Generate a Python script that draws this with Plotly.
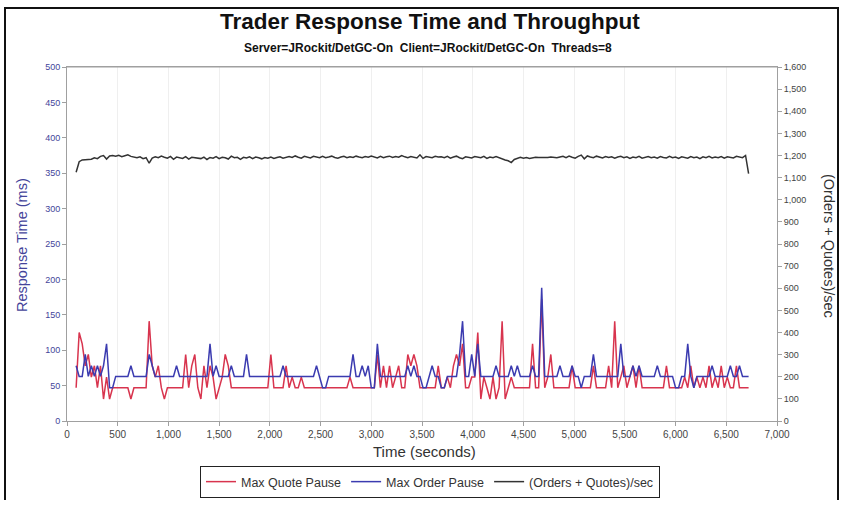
import plotly.graph_objects as go

# sample times (seconds) - one sample every 30 s
time_s = list(range(90, 6721, 30))

# Max Quote Pause (ms)
max_quote_pause = [
    47, 125, 109, 78, 94, 62, 78, 47, 78, 31,
    62, 31, 47, 47, 47, 47, 47, 47, 31, 47,
    47, 47, 47, 47, 141, 78, 62, 78, 47, 31,
    47, 47, 47, 47, 47, 47, 94, 47, 78, 94,
    47, 31, 78, 47, 78, 62, 31, 47, 62, 94,
    78, 47, 47, 47, 47, 47, 47, 47, 47, 47,
    47, 47, 47, 47, 94, 47, 47, 47, 47, 78,
    47, 62, 47, 47, 62, 47, 47, 47, 47, 47,
    47, 47, 47, 47, 47, 47, 47, 47, 47, 47,
    62, 47, 47, 47, 47, 47, 47, 47, 47, 94,
    47, 78, 47, 78, 47, 62, 78, 47, 47, 94,
    78, 94, 78, 47, 47, 47, 47, 47, 47, 78,
    47, 47, 62, 47, 78, 94, 78, 109, 47, 47,
    62, 62, 125, 31, 62, 47, 31, 62, 31, 47,
    141, 31, 47, 62, 47, 47, 47, 47, 47, 47,
    109, 47, 47, 172, 47, 62, 94, 47, 47, 47,
    47, 47, 47, 78, 47, 47, 47, 47, 47, 47,
    78, 47, 47, 47, 47, 78, 47, 141, 47, 62,
    78, 47, 62, 78, 47, 78, 47, 47, 47, 47,
    47, 47, 47, 47, 78, 47, 47, 47, 47, 47,
    62, 47, 78, 47, 62, 47, 62, 47, 78, 47,
    62, 47, 78, 47, 62, 47, 47, 78, 47, 47,
    47, 47,
]

# Max Order Pause (ms)
max_order_pause = [
    78, 63, 63, 94, 63, 78, 63, 78, 63, 78,
    109, 47, 47, 63, 63, 63, 63, 63, 78, 63,
    63, 63, 63, 63, 94, 78, 63, 63, 63, 63,
    63, 63, 63, 78, 63, 63, 63, 63, 63, 63,
    63, 63, 63, 63, 109, 63, 78, 63, 63, 63,
    63, 78, 63, 63, 63, 63, 94, 63, 63, 63,
    63, 63, 63, 63, 63, 63, 63, 63, 78, 63,
    63, 63, 63, 63, 63, 63, 63, 63, 63, 78,
    63, 47, 47, 63, 63, 63, 63, 63, 63, 63,
    63, 94, 63, 63, 78, 63, 78, 47, 47, 109,
    63, 63, 63, 63, 63, 63, 63, 63, 63, 78,
    63, 78, 63, 63, 47, 47, 63, 78, 63, 63,
    47, 47, 63, 63, 63, 63, 94, 141, 63, 63,
    94, 63, 109, 63, 63, 63, 63, 63, 78, 63,
    63, 63, 63, 78, 63, 78, 63, 63, 63, 63,
    78, 63, 63, 188, 63, 63, 63, 63, 63, 78,
    63, 63, 63, 78, 63, 63, 47, 63, 63, 63,
    94, 63, 63, 63, 63, 63, 63, 63, 63, 109,
    63, 63, 63, 78, 63, 78, 63, 63, 63, 63,
    63, 78, 63, 63, 63, 63, 63, 47, 47, 63,
    63, 109, 63, 47, 63, 63, 63, 63, 63, 78,
    63, 63, 63, 63, 63, 78, 63, 63, 78, 63,
    63, 63,
]

# (Orders + Quotes)/sec
throughput = [
    1124, 1172, 1180, 1181, 1182, 1183, 1190, 1186, 1196, 1200,
    1184, 1198, 1200, 1197, 1201, 1195, 1199, 1203, 1196, 1193,
    1190, 1194, 1186, 1190, 1165, 1188, 1194, 1190, 1197, 1192,
    1188, 1196, 1183, 1193, 1190, 1187, 1195, 1184, 1192, 1190,
    1188, 1186, 1193, 1182, 1191, 1188, 1195, 1186, 1192, 1190,
    1184, 1197, 1190, 1192, 1183, 1192, 1189, 1194, 1186, 1193,
    1190, 1185, 1191, 1188, 1193, 1187, 1191, 1194, 1188, 1190,
    1195, 1191, 1198, 1192, 1188, 1196, 1193, 1189, 1196, 1192,
    1190, 1196, 1190, 1193, 1197, 1191, 1188, 1193, 1196, 1190,
    1194, 1191, 1197, 1193, 1190, 1195, 1192, 1198, 1193, 1189,
    1196, 1190, 1194, 1197, 1191, 1195, 1192, 1200, 1194, 1190,
    1195, 1193, 1189, 1203, 1187, 1195, 1192, 1190, 1196, 1193,
    1194, 1190, 1196, 1188, 1193, 1197, 1190, 1186, 1194, 1191,
    1189, 1195, 1192, 1190, 1196, 1187, 1193, 1190, 1195, 1189,
    1185, 1180, 1176, 1168, 1182, 1187, 1192, 1188, 1191, 1187,
    1190, 1192, 1191, 1190, 1192, 1191, 1193, 1192, 1190, 1193,
    1196, 1190, 1197, 1192, 1188, 1196, 1202, 1185, 1198, 1193,
    1190, 1197, 1192, 1189, 1195, 1191, 1194, 1188, 1193, 1196,
    1190, 1194, 1187, 1193, 1190, 1196, 1188, 1192, 1195, 1190,
    1193, 1188, 1195, 1191, 1189, 1196, 1190, 1193, 1187, 1194,
    1191, 1188, 1195, 1190, 1193, 1186, 1194, 1190, 1196, 1189,
    1193, 1190, 1195, 1188, 1194, 1191, 1189, 1196, 1192, 1190,
    1200, 1118,
]

W, H = 843, 500
ML, MR, MT = 67, 66, 67
PLOT_BOTTOM = 421
MB = H - PLOT_BOTTOM
PW, PH = W - ML - MR, PLOT_BOTTOM - MT


def px(x):
    return (x - ML) / PW


def py(y):
    return (PLOT_BOTTOM - y) / PH


FONT = "Liberation Sans, Arial, sans-serif"
RED = "#d8344e"
BLUE = "#3b3bb0"
BLACK = "#333333"

fig = go.Figure()
fig.add_trace(go.Scatter(x=time_s, y=max_quote_pause, mode="lines",
                         name="Max Quote Pause", line=dict(color=RED, width=1.5)))
fig.add_trace(go.Scatter(x=time_s, y=max_order_pause, mode="lines",
                         name="Max Order Pause", line=dict(color=BLUE, width=1.5)))
fig.add_trace(go.Scatter(x=time_s, y=throughput, mode="lines", yaxis="y2",
                         name="(Orders + Quotes)/sec", line=dict(color=BLACK, width=1.5)))

axis_common = dict(showline=True, linecolor="#a0a0a0", linewidth=1, ticks="outside",
                   ticklen=4, tickcolor="#a0a0a0", zeroline=False)

fig.update_layout(
    width=W, height=H, autosize=False,
    margin=dict(l=ML, r=MR, t=MT, b=MB, pad=0, autoexpand=False),
    paper_bgcolor="white", plot_bgcolor="white",
    font=dict(family=FONT, color="#333333"),
    showlegend=True,
    legend=dict(orientation="h", x=px(430), y=py(466), xanchor="center", yanchor="top",
                bordercolor="#222222", borderwidth=1, font=dict(size=12.5, color="#333333"),
                itemwidth=30, tracegroupgap=0, bgcolor="white"),
    xaxis=dict(range=[0, 7000], dtick=500, tickformat=",", mirror=True,
               showgrid=True, gridcolor="#efefef", gridwidth=1,
               tickfont=dict(size=10, color="#444444"), **axis_common),
    yaxis=dict(range=[0, 500], dtick=50, showgrid=False,
               tickfont=dict(size=9, color="#44449a"), **axis_common),
    yaxis2=dict(range=[0, 1600], dtick=100, tickformat=",", overlaying="y", side="right",
                showgrid=False, tickfont=dict(size=9, color="#444444"), **axis_common),
)

# top border of plot area
fig.add_shape(type="line", xref="paper", yref="paper", x0=0, x1=1, y0=1, y1=1,
              line=dict(color="#a0a0a0", width=1))
# outer chart frame
fig.add_shape(type="rect", xref="paper", yref="paper",
              x0=px(5), x1=px(838), y0=py(8), y1=py(530),
              line=dict(color="#111111", width=2))

ann = [
    dict(text="<b>Trader Response Time and Throughput</b>", x=px(430), y=py(22),
         font=dict(size=22.5, color="#111111")),
    dict(text="<b>Server=JRockit/DetGC-On  Client=JRockit/DetGC-On  Threads=8</b>",
         x=px(428), y=py(48), font=dict(size=12, color="#111111")),
    dict(text="Response Time (ms)", x=px(22), y=py(245), textangle=-90,
         font=dict(size=14.5, color="#44449a")),
    dict(text="(Orders + Quotes)/sec", x=px(829), y=py(246), textangle=90,
         font=dict(size=14.5, color="#333333")),
    dict(text="Time (seconds)", x=px(424), y=py(452),
         font=dict(size=15, color="#333333")),
]
for a in ann:
    fig.add_annotation(xref="paper", yref="paper", showarrow=False,
                       xanchor="center", yanchor="middle", **a)

fig.write_html("out.html")
